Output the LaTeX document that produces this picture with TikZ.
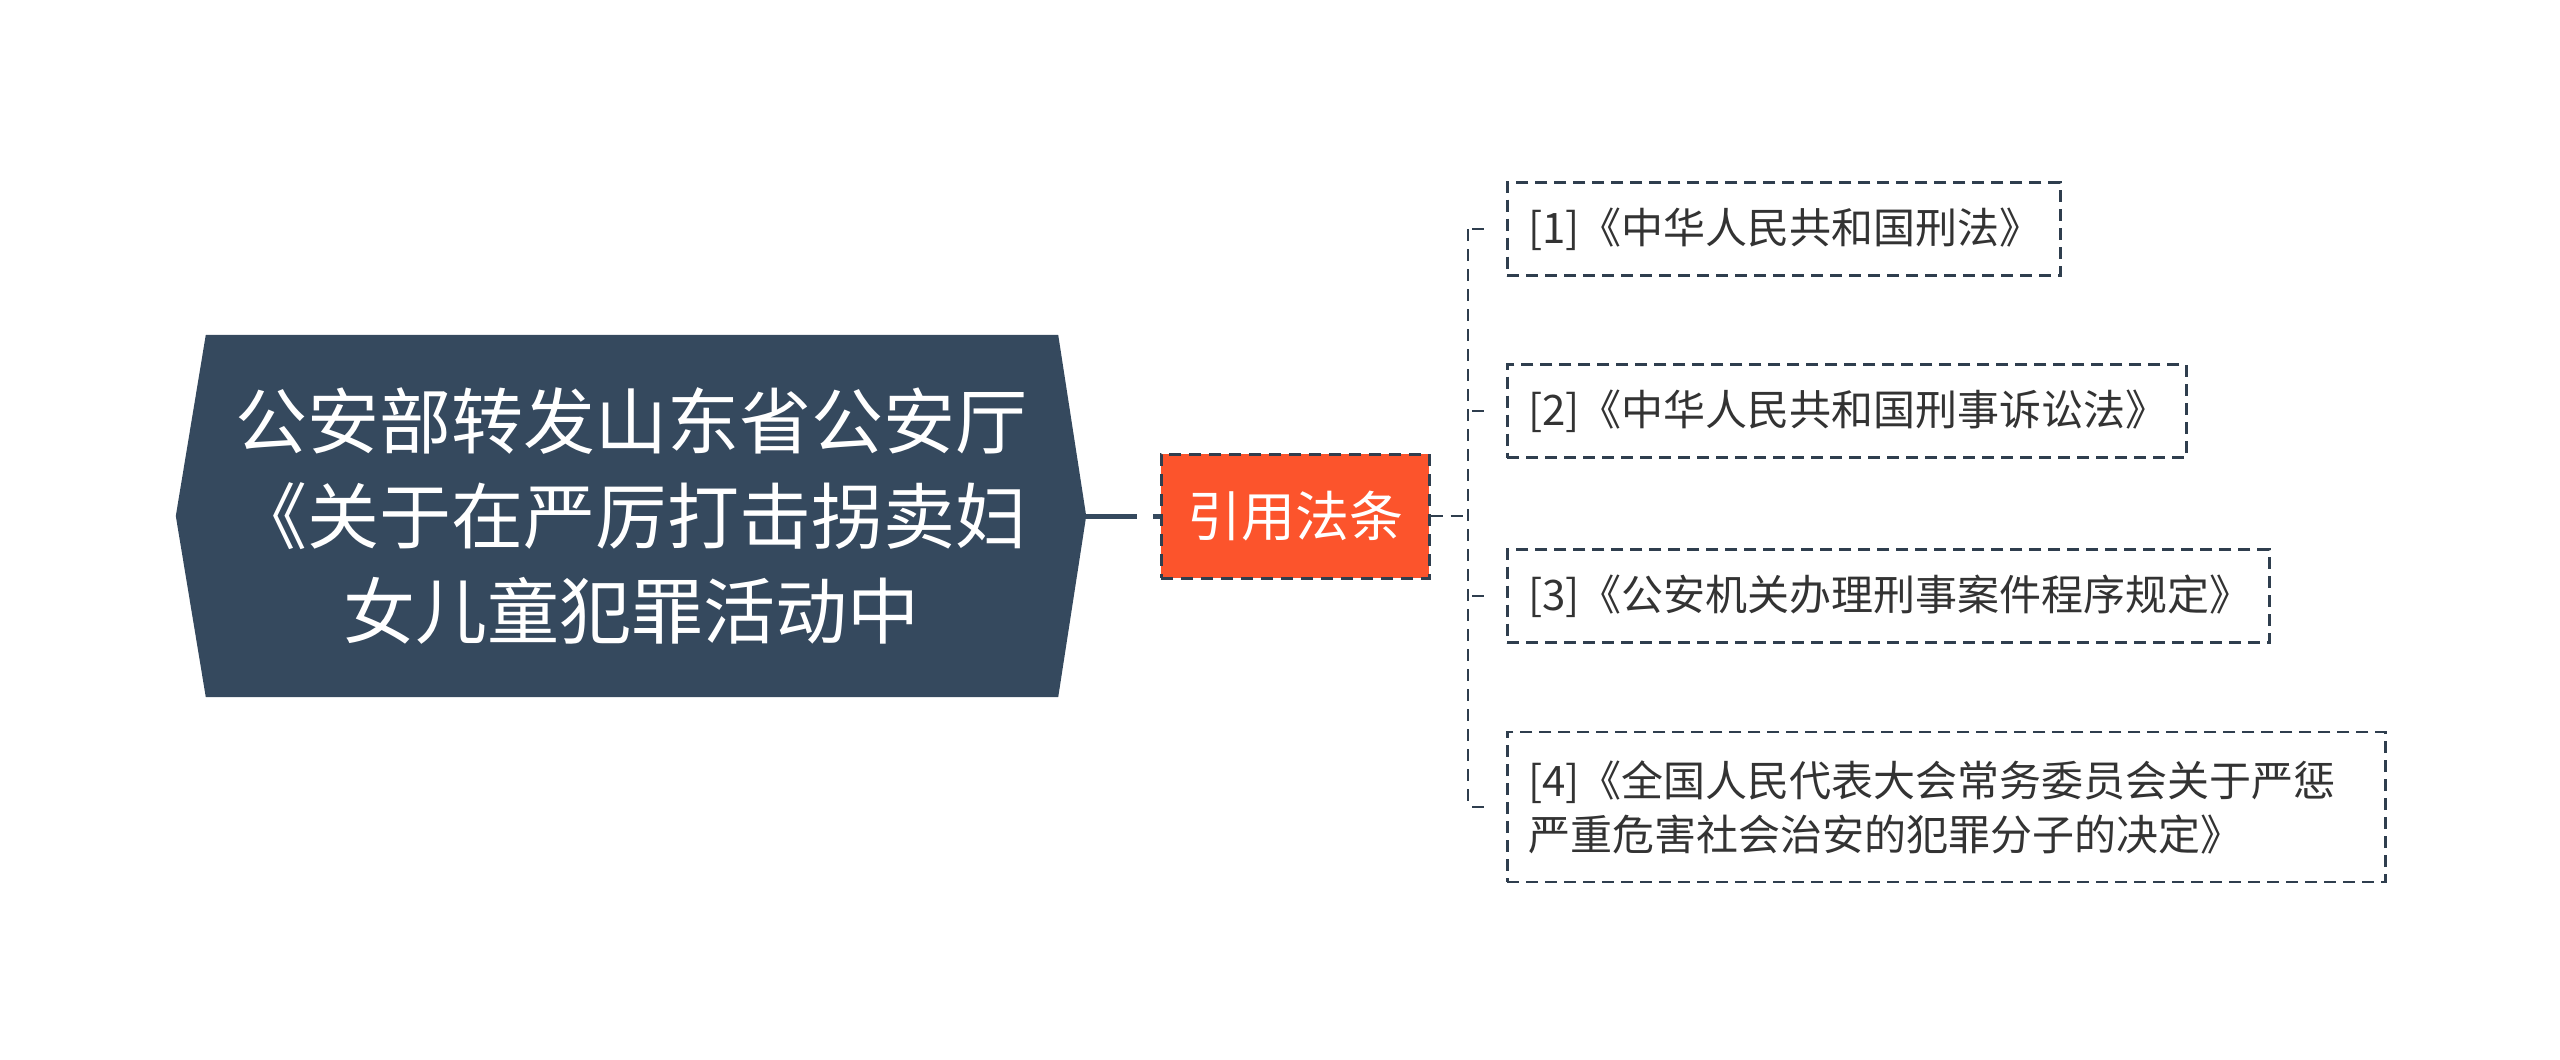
\documentclass[tikz,border=0pt]{standalone}
\usepackage{fontspec}
\setmainfont{Noto Sans CJK SC}
\usetikzlibrary{backgrounds}
\definecolor{mainfill}{HTML}{35495E}
\definecolor{citefill}{HTML}{FC542C}
\definecolor{edgec}{HTML}{2F3E4E}
\definecolor{txt}{HTML}{333333}
\tikzset{
  maintext/.style={minimum width=910pt, minimum height=362pt, inner sep=0pt, align=center, text=white, font=\fontsize{72}{95}\selectfont},
  citebox/.style={minimum width=268pt, minimum height=124pt, inner sep=0pt, fill=citefill, draw=edgec, line width=3pt, dash pattern=on 12pt off 8pt, text=white, font=\fontsize{54}{60}\selectfont},
  leaf/.style={anchor=west, draw=edgec, line width=2.5pt, dash pattern=on 12pt off 7pt, text=txt, align=left, inner xsep=21pt, inner ysep=0pt, minimum height=93pt, font=\fontsize{42}{54}\selectfont},
  link/.style={draw=edgec, line width=2.5pt, dash pattern=on 12pt off 8pt},
  tick/.style={draw=edgec, line width=2.5pt, dash pattern=on 0pt off 4pt on 12pt off 60pt},
  trunk/.style={draw=mainfill, line width=5pt, dash pattern=on 51pt off 16pt on 40pt off 0pt}
}
\begin{document}
\begin{tikzpicture}[x=1pt,y=-1pt]
\useasboundingbox (0,0) rectangle (2560,1060);
\node[maintext] (main) at (631,516) {公安部转发山东省公安厅\\《关于在严厉打击拐卖妇\\女儿童犯罪活动中};
\begin{scope}[on background layer]
\fill[mainfill] ([xshift=30pt]main.north west) -- ([xshift=-28pt]main.north east) -- (main.east) -- ([xshift=-28pt]main.south east) -- ([xshift=30pt]main.south west) -- (main.west) -- cycle;
\end{scope}
\node[citebox] (cite) at (1295,516) {引用法条};
\node[leaf, text width=511pt] (b1) at (1506,229) {[1]《中华人民共和国刑法》};
\node[leaf, text width=637pt] (b2) at (1506,411) {[2]《中华人民共和国刑事诉讼法》};
\node[leaf, text width=720pt] (b3) at (1506,596) {[3]《公安机关办理刑事案件程序规定》};
\node[leaf, text width=836pt, minimum height=150pt] (b4) at (1506,807) {[4]《全国人民代表大会常务委员会关于严惩\\严重危害社会治安的犯罪分子的决定》};
\draw[trunk] (main.east) -- (cite.west);
\coordinate (j) at (1468,516);
\coordinate (t1) at (b1.west -| j);
\coordinate (t2) at (b2.west -| j);
\coordinate (t3) at (b3.west -| j);
\coordinate (t4) at (b4.west -| j);
\draw[link] (cite.east) -- (j);
\draw[link] (t1) -- (t4);
\draw[tick] (t1) -- (b1.west);
\draw[tick] (t2) -- (b2.west);
\draw[tick] (t3) -- (b3.west);
\draw[tick] (t4) -- (b4.west);
\end{tikzpicture}
\end{document}
